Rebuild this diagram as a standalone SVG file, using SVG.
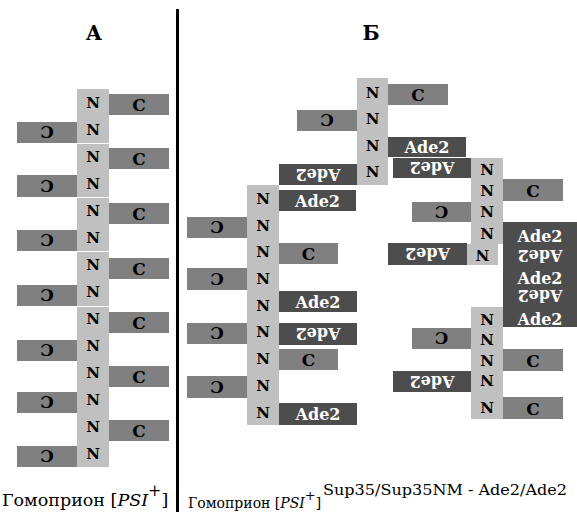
<svg xmlns="http://www.w3.org/2000/svg" width="577" height="512" viewBox="0 0 577 512">
<style>
text{font-family:"DejaVu Serif",serif}
.n{fill:#c0c0c0}
.c{fill:#808080}
.a{fill:#4d4d4d}
.tn{font-weight:bold;font-size:15px;text-anchor:middle;fill:#000}
.tc{font-weight:bold;font-size:17px;text-anchor:middle;fill:#000}
.ta{font-weight:bold;font-size:16px;text-anchor:middle;fill:#fff}
.h{font-weight:bold;font-size:20px;text-anchor:middle;fill:#000}
.lb{font-size:17.5px;fill:#000}
.lb2{font-size:14px;fill:#000}
.it{font-style:italic}
.sm{font-size:15px;fill:#000}
</style>
<rect width="577" height="512" fill="#fff"/>
<rect x="176" y="9" width="3" height="503" fill="#000"/>
<text class="h" x="94" y="40">А</text>
<text class="h" x="371" y="40">Б</text>

<g id="connectors"/>

<!-- Panel A -->
<g id="fibrilA">
<rect class="n" x="77" y="89" width="32" height="54"/>
<rect class="n" x="77" y="144" width="32" height="53"/>
<rect class="n" x="77" y="198" width="32" height="53"/>
<rect class="n" x="77" y="252" width="32" height="54"/>
<rect class="n" x="77" y="307" width="32" height="160"/>
<rect class="c" x="109" y="94" width="60" height="21"/>
<rect class="c" x="109" y="148" width="60" height="21"/>
<rect class="c" x="109" y="203" width="60" height="21"/>
<rect class="c" x="109" y="258" width="60" height="21"/>
<rect class="c" x="109" y="312" width="60" height="21"/>
<rect class="c" x="109" y="366" width="60" height="21"/>
<rect class="c" x="109" y="420" width="60" height="21"/>
<rect class="c" x="17" y="122" width="60" height="21"/>
<rect class="c" x="17" y="175" width="60" height="22"/>
<rect class="c" x="17" y="230" width="60" height="21"/>
<rect class="c" x="17" y="285" width="60" height="21"/>
<rect class="c" x="17" y="340" width="60" height="21"/>
<rect class="c" x="17" y="392" width="60" height="21"/>
<rect class="c" x="17" y="446" width="60" height="21"/>
<text class="tn" x="93" y="108">N</text>
<text class="tn" x="93" y="135">N</text>
<text class="tn" x="93" y="162">N</text>
<text class="tn" x="93" y="189">N</text>
<text class="tn" x="93" y="216">N</text>
<text class="tn" x="93" y="243">N</text>
<text class="tn" x="93" y="270">N</text>
<text class="tn" x="93" y="297">N</text>
<text class="tn" x="93" y="324">N</text>
<text class="tn" x="93" y="351">N</text>
<text class="tn" x="93" y="378">N</text>
<text class="tn" x="93" y="405">N</text>
<text class="tn" x="93" y="432">N</text>
<text class="tn" x="93" y="459">N</text>
<text class="tc" x="139" y="111">C</text>
<text class="tc" x="139" y="165">C</text>
<text class="tc" x="139" y="220">C</text>
<text class="tc" x="139" y="275">C</text>
<text class="tc" x="139" y="329">C</text>
<text class="tc" x="139" y="383">C</text>
<text class="tc" x="139" y="437">C</text>
<text class="tc" x="47" y="139" transform="rotate(180 47 132.5)">C</text>
<text class="tc" x="47" y="192.5" transform="rotate(180 47 186)">C</text>
<text class="tc" x="47" y="247" transform="rotate(180 47 240.5)">C</text>
<text class="tc" x="47" y="302" transform="rotate(180 47 295.5)">C</text>
<text class="tc" x="47" y="357" transform="rotate(180 47 350.5)">C</text>
<text class="tc" x="47" y="409" transform="rotate(180 47 402.5)">C</text>
<text class="tc" x="47" y="463" transform="rotate(180 47 456.5)">C</text>
</g>

<!-- Panel B: top molecule column -->
<g id="fibrilB1">
<rect class="n" x="357" y="78" width="31" height="107"/>
<rect class="c" x="388" y="84" width="60" height="21"/>
<rect class="c" x="297" y="110" width="60" height="21"/>
<rect class="a" x="388" y="137" width="78" height="20"/>
<rect class="a" x="279" y="164" width="78" height="21"/>
<text class="tn" x="372.5" y="98">N</text>
<text class="tn" x="372.5" y="124">N</text>
<text class="tn" x="372.5" y="151">N</text>
<text class="tn" x="372.5" y="177">N</text>
<text class="tc" x="418" y="101">C</text>
<text class="tc" x="327" y="127" transform="rotate(180 327 120.5)">C</text>
<text class="ta" x="427" y="153">Ade2</text>
<text class="ta" x="318" y="180.5" transform="rotate(180 318 174.5)">Ade2</text>
</g>

<!-- Panel B: left column -->
<g id="fibrilB2">
<rect class="n" x="247" y="185" width="32" height="240"/>
<rect class="a" x="279" y="190" width="77" height="21"/>
<rect class="c" x="187" y="217" width="60" height="21"/>
<rect class="c" x="279" y="243" width="59" height="21"/>
<rect class="c" x="187" y="268" width="60" height="22"/>
<rect class="a" x="279" y="291" width="78" height="21"/>
<rect class="c" x="187" y="323" width="60" height="21"/>
<rect class="a" x="279" y="323" width="78" height="22"/>
<rect class="c" x="279" y="349" width="59" height="21"/>
<rect class="c" x="187" y="376" width="60" height="22"/>
<rect class="a" x="279" y="403" width="78" height="22"/>
<text class="tn" x="263" y="203.5">N</text>
<text class="tn" x="263" y="230.5">N</text>
<text class="tn" x="263" y="257">N</text>
<text class="tn" x="263" y="284">N</text>
<text class="tn" x="263" y="310.5">N</text>
<text class="tn" x="263" y="337">N</text>
<text class="tn" x="263" y="364">N</text>
<text class="tn" x="263" y="391">N</text>
<text class="tn" x="263" y="417.5">N</text>
<text class="ta" x="317.5" y="206.5">Ade2</text>
<text class="tc" x="217" y="234" transform="rotate(180 217 227.5)">C</text>
<text class="tc" x="308.5" y="260">C</text>
<text class="tc" x="217" y="285.5" transform="rotate(180 217 279)">C</text>
<text class="ta" x="318" y="307.5">Ade2</text>
<text class="tc" x="217" y="340" transform="rotate(180 217 333.5)">C</text>
<text class="ta" x="318" y="340" transform="rotate(180 318 334)">Ade2</text>
<text class="tc" x="308.5" y="366">C</text>
<text class="tc" x="217" y="393.5" transform="rotate(180 217 387)">C</text>
<text class="ta" x="318" y="420">Ade2</text>
</g>

<!-- Panel B: right column -->
<g id="fibrilB3">
<rect class="n" x="471" y="158" width="32" height="86"/>
<rect class="n" x="467" y="244" width="31" height="21"/>
<rect class="n" x="471" y="307" width="32" height="112"/>
<rect class="a" x="393" y="158" width="78" height="20"/>
<rect class="c" x="503" y="179" width="60" height="22"/>
<rect class="c" x="412" y="202" width="59" height="20"/>
<rect class="a" x="503" y="222" width="74" height="105"/>
<rect class="a" x="388" y="243" width="79" height="22"/>
<rect class="c" x="412" y="328" width="59" height="21"/>
<rect class="c" x="503" y="349" width="60" height="22"/>
<rect class="a" x="393" y="371" width="78" height="21"/>
<rect class="c" x="503" y="397" width="60" height="22"/>
<text class="tn" x="487" y="174.5">N</text>
<text class="tn" x="487" y="195.5">N</text>
<text class="tn" x="487" y="216.5">N</text>
<text class="tn" x="487" y="238.5">N</text>
<text class="tn" x="482.5" y="260.5" transform="rotate(180 482.5 255)">N</text>
<text class="tn" x="487" y="324.5">N</text>
<text class="tn" x="487" y="344.5" transform="rotate(180 487 339)">N</text>
<text class="tn" x="487" y="365.5">N</text>
<text class="tn" x="487" y="386" transform="rotate(180 487 380.5)">N</text>
<text class="tn" x="487" y="413">N</text>
<text class="ta" x="432" y="174" transform="rotate(180 432 168)">Ade2</text>
<text class="tc" x="533" y="196.5">C</text>
<text class="tc" x="441.5" y="218.5" transform="rotate(180 441.5 212)">C</text>
<text class="ta" x="540" y="241.5">Ade2</text>
<text class="ta" x="540" y="262" transform="rotate(180 540 256)">Ade2</text>
<text class="ta" x="540" y="283.5">Ade2</text>
<text class="ta" x="540" y="302" transform="rotate(180 540 296)">Ade2</text>
<text class="ta" x="540" y="324.5">Ade2</text>
<text class="ta" x="427.5" y="260" transform="rotate(180 427.5 254)">Ade2</text>
<text class="tc" x="441.5" y="345" transform="rotate(180 441.5 338.5)">C</text>
<text class="tc" x="533" y="366.5">C</text>
<text class="ta" x="432" y="387.5" transform="rotate(180 432 381.5)">Ade2</text>
<text class="tc" x="533" y="414.5">C</text>
</g>

<!-- Captions -->
<g id="captionA">
<text class="lb" x="2" y="506">Гомоприон [<tspan class="it">PSI</tspan><tspan dy="-10" font-size="16px">+</tspan><tspan dy="10">]</tspan></text>
</g>
<g id="captionB">
<text class="lb2" x="188" y="508">Гомоприон [<tspan class="it">PSI</tspan><tspan dy="-8" font-size="13px">+</tspan><tspan dy="8">]</tspan></text>
<text class="sm" x="323" y="495" textLength="244" lengthAdjust="spacingAndGlyphs">Sup35/Sup35NM - Ade2/Ade2</text>
</g>
</svg>
